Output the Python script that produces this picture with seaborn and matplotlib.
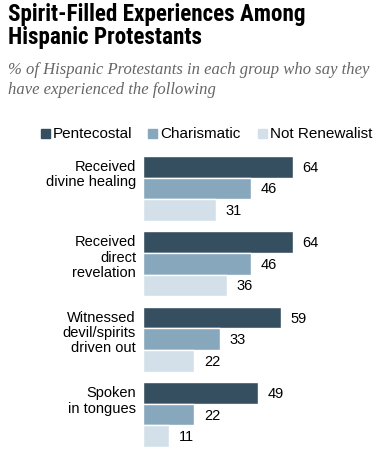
import pandas as pd
import numpy as np
import matplotlib
matplotlib.use('Agg')
import matplotlib.pyplot as plt
import seaborn as sns

sns.set_theme(style='white')
plt.rcParams['font.family'] = ['Liberation Sans', 'DejaVu Sans']
plt.rcParams['text.color'] = 'black'

# data
experiences = ['Received\ndivine healing', 'Received\ndirect\nrevelation',
               'Witnessed\ndevil/spirits\ndriven out', 'Spoken\nin tongues']
groups = ['Pentecostal', 'Charismatic', 'Not Renewalist']
pentecostal = [64, 64, 59, 49]
charismatic = [46, 46, 33, 22]
not_renewalist = [31, 36, 22, 11]
colors = ['#364F60', '#87A7BC', '#D4E0E9']

df = pd.DataFrame({'experience': experiences * 3,
                   'group': np.repeat(groups, len(experiences)),
                   'pct': pentecostal + charismatic + not_renewalist})

fig = plt.figure(figsize=(3.87, 4.64), dpi=100)
ax = fig.add_axes([143 / 387, 1 - 448 / 464, 234 / 387, 291 / 464])

bw = 0.855
sns.barplot(data=df, y='experience', x='pct', hue='group', hue_order=groups,
            palette=colors, orient='h', width=bw, saturation=1,
            errorbar=None, legend=False, ax=ax)

for cont in ax.containers:
    ax.bar_label(cont, padding=7, fontsize=10.5, color='black')

ax.set_xlim(0, 100)
ax.set_ylim(len(experiences) - 1 + bw / 2, -bw / 2)
ax.set_xlabel('')
ax.set_ylabel('')
ax.set_xticks([])
ax.set_yticks([])
sns.despine(ax=ax, left=True, bottom=True)

# category labels, aligned to the top of each group
for i, lab in enumerate(experiences):
    ax.annotate(lab, xy=(0, i - bw / 2), xycoords=('axes fraction', 'data'),
                xytext=(-5, -2), textcoords='offset points',
                ha='right', va='top', fontsize=10.5, linespacing=1.12,
                multialignment='right')

# legend row
legend_x = [41, 148, 258]
for x, g, c in zip(legend_x, groups, colors):
    fig.patches.append(plt.Rectangle((x / 387, 1 - 139 / 464), 9 / 387, 9 / 464,
                                     transform=fig.transFigure, color=c))
    fig.text((x + 12) / 387, 1 - 134 / 464, g, fontsize=11, va='center', ha='left')

fig.text(8 / 387, 1 - 3 / 464, 'Spirit-Filled Experiences Among\nHispanic Protestants',
         fontsize=16.7, fontweight='bold', va='top', ha='left', linespacing=1.02,
         family=['Liberation Sans Narrow', 'Roboto Condensed', 'Liberation Sans'])
fig.text(8 / 387, 1 - 62 / 464,
         '% of Hispanic Protestants in each group who say they\nhave experienced the following',
         fontsize=12, style='italic', color='#666666', va='top', ha='left',
         linespacing=1.3, family=['Liberation Serif'])

fig.savefig('out.png', dpi=100)
